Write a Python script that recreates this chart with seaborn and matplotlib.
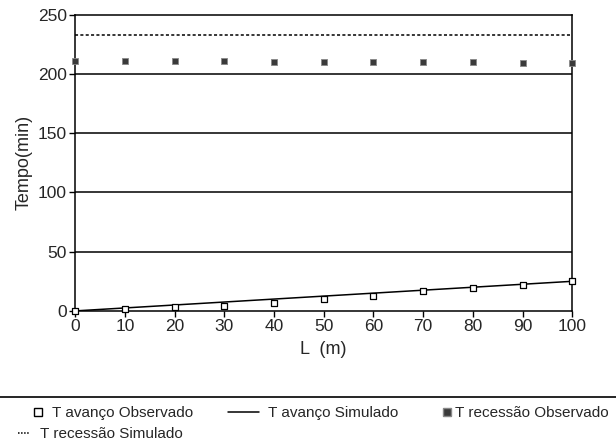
import numpy as np
import pandas as pd
import matplotlib
matplotlib.use("Agg")
import matplotlib.pyplot as plt
import seaborn as sns
from matplotlib.lines import Line2D

# Data
L = [0, 10, 20, 30, 40, 50, 60, 70, 80, 90, 100]
t_avanco_obs = [0, 1.5, 3, 4, 7, 10, 13, 16.5, 19.5, 22, 25]
t_avanco_sim = [0, 2.5, 5, 7.5, 10, 12.5, 15, 17.5, 20, 22.5, 25]
t_recessao_obs = [211, 211, 211, 211, 210, 210, 210, 210, 210, 209.5, 209]
t_recessao_sim = [233] * 11

sns.set_style("white")
plt.rcParams['font.family'] = ['Liberation Sans', 'DejaVu Sans']

fig = plt.figure(figsize=(6.16, 4.48), dpi=100)
ax = fig.add_axes([0.122, 0.306, 0.807, 0.661])

df = pd.DataFrame({"L": L, "avo": t_avanco_obs, "avs": t_avanco_sim,
                   "reo": t_recessao_obs, "res": t_recessao_sim})

# horizontal grid lines
for yv in [50, 100, 150, 200]:
    ax.axhline(yv, color="black", lw=1.1, zorder=1)

sns.lineplot(data=df, x="L", y="avs", ax=ax, color="black", lw=1.1, zorder=2)
sns.lineplot(data=df, x="L", y="res", ax=ax, color="black", lw=1.1,
             linestyle=(0, (2, 1.5)), zorder=2)
ax.scatter(df["L"], df["avo"], marker="s", s=22, facecolor="white",
           edgecolor="black", linewidth=0.9, zorder=3, clip_on=False)
ax.scatter(df["L"], df["reo"], marker="s", s=20, facecolor="#3a3a3a",
           edgecolor="#888888", linewidth=0.6, zorder=3, clip_on=False)

ax.set_xlim(0, 100)
ax.set_ylim(0, 250)
ax.set_xticks(L)
ax.set_yticks([0, 50, 100, 150, 200, 250])
ax.tick_params(axis="both", direction="out", length=4, width=1,
               color="black", labelsize=12.5, pad=2, bottom=True, left=True)
for s in ax.spines.values():
    s.set_color("black")
    s.set_linewidth(1.1)

ax.set_xlabel("L  (m)", fontsize=13, labelpad=5)
ax.set_ylabel("Tempo(min)", fontsize=13, labelpad=4)

# legend below with separator line
fig.add_artist(Line2D([0, 1], [1 - 397 / 448] * 2, color="black", lw=1.2,
                      transform=fig.transFigure))
h_avo = Line2D([], [], marker="s", color="none", markerfacecolor="white",
               markeredgecolor="black", markersize=6)
h_avs = Line2D([], [], color="black", lw=1.1)
h_reo = Line2D([], [], marker="s", color="none", markerfacecolor="#3a3a3a",
               markeredgecolor="#888888", markersize=6)
h_res = Line2D([], [], color="black", lw=1.1, linestyle=(0, (1, 1)))

items = [
    (h_avo, "T avanço Observado", 30, 413, 1.0, 0.45),
    (h_avs, "T avanço Simulado", 228, 413, 2.0, 0.65),
    (h_reo, "T recessão Observado", 442, 413, 0.6, 0.25),
    (h_res, "T recessão Simulado", 18, 434, 0.8, 0.65),
]
for h, lab, x, y, hl, tp in items:
    fig.legend([h], [lab], loc="center left",
               bbox_to_anchor=(x / 616, 1 - y / 448), frameon=False,
               fontsize=11, handlelength=hl, handletextpad=tp,
               borderpad=0, borderaxespad=0)

fig.savefig("out.png", dpi=100)
